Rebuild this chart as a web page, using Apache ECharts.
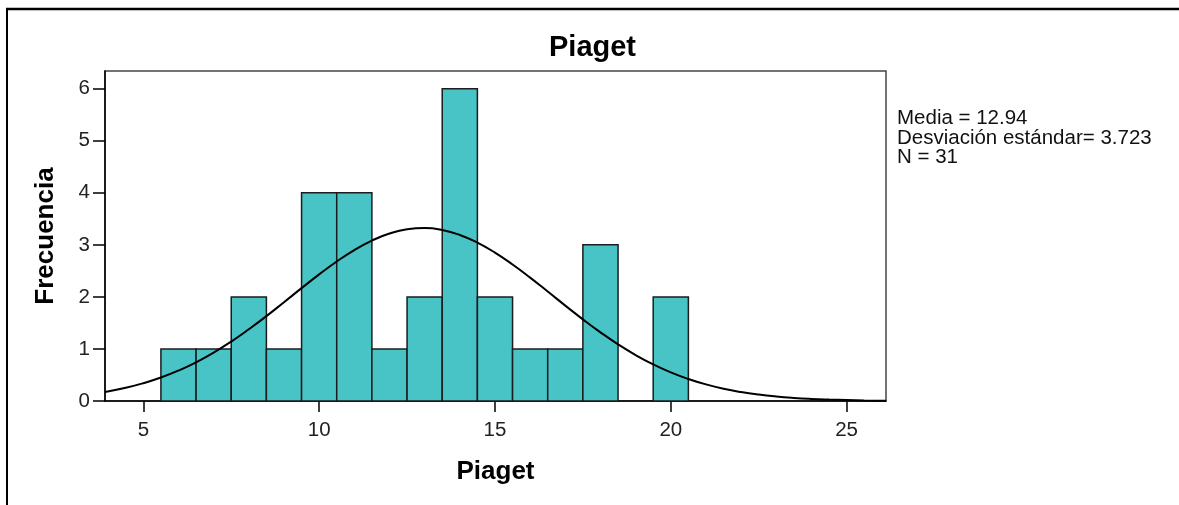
<!DOCTYPE html>
<html>
<head>
<meta charset="utf-8">
<script src="https://cdn.jsdelivr.net/npm/echarts@6/dist/echarts.min.js"></script>
<style>
  html, body { margin: 0; padding: 0; background: #fff; }
  #chart { width: 1179px; height: 505px; }
</style>
</head>
<body>
<div id="chart"></div>
<script>
  // histogram bins (centre of each unit-wide bin) and counts
  const binCenters = [6, 7, 8, 9, 10, 11, 12, 13, 14, 15, 16, 17, 18, 19, 20];
  const binCounts = [1, 1, 2, 1, 4, 4, 1, 2, 6, 2, 1, 1, 3, 0, 2];

  // normal curve (Media = 12.94, DE = 3.723, N = 31)
  const curveX = [3.91, 4.5, 5, 5.5, 6, 6.5, 7, 7.5, 8, 8.5, 9, 9.5, 10, 10.5, 11, 11.5, 12, 12.5, 13,
    13.5, 14, 14.5, 15, 15.5, 16, 16.5, 17, 17.5, 18, 18.5, 19, 19.5, 20, 20.5, 21, 21.5, 22, 22.5,
    23, 23.5, 24, 24.5, 25, 25.5, 26.12];
  const curveY = [0.174, 0.254, 0.342, 0.451, 0.585, 0.744, 0.930, 1.142, 1.378, 1.631, 1.898, 2.168,
    2.432, 2.680, 2.900, 3.082, 3.218, 3.299, 3.322, 3.285, 3.190, 3.043, 2.850, 2.622, 2.370, 2.103,
    1.833, 1.569, 1.319, 1.089, 0.883, 0.703, 0.550, 0.423, 0.319, 0.236, 0.172, 0.123, 0.086, 0.059,
    0.040, 0.027, 0.0175, 0.011, 0.0064];

  const xTicks = [5, 10, 15, 20, 25];
  const yTicks = [0, 1, 2, 3, 4, 5, 6];
  const statsLines = ['Media = 12.94', 'Desviación estándar= 3.723', 'N = 31'];

  const chart = echarts.init(document.getElementById('chart'));
  const font = 'Liberation Sans, Arial, sans-serif';

  const option = {
    animation: false,
    title: {
      text: 'Piaget',
      left: 549,
      top: 33,
      padding: 0,
      textStyle: { fontFamily: font, fontSize: 29, fontWeight: 'bold', color: '#000' },
    },
    grid: {
      left: 105,
      top: 71,
      right: 293,
      bottom: 104,
      show: true,
      borderColor: '#444',
      borderWidth: 1.5,
    },
    xAxis: {
      type: 'value',
      min: 3.91,
      max: 26.12,
      name: 'Piaget',
      nameLocation: 'middle',
      nameGap: 58,
      nameTextStyle: { fontFamily: font, fontSize: 26, fontWeight: 'bold', color: '#000' },
      splitLine: { show: false },
      axisLine: { lineStyle: { color: '#000', width: 1.5 } },
      axisTick: { customValues: xTicks, length: 11, lineStyle: { color: '#000', width: 1.5 } },
      axisLabel: { customValues: xTicks, margin: 19, fontFamily: font, fontSize: 20.5, color: '#222' },
    },
    yAxis: {
      type: 'value',
      min: 0,
      max: 6.34,
      name: 'Frecuencia',
      nameLocation: 'middle',
      nameGap: 46,
      nameTextStyle: { fontFamily: font, fontSize: 26, fontWeight: 'bold', color: '#000' },
      splitLine: { show: false },
      axisLine: { show: true, lineStyle: { color: '#000', width: 1.5 } },
      axisTick: { show: true, customValues: yTicks, length: 12, lineStyle: { color: '#000', width: 1.5 } },
      axisLabel: { customValues: yTicks, margin: 15, fontFamily: font, fontSize: 20.5, color: '#222' },
    },
    graphic: [
      // outer frame (top and left edges only)
      { type: 'line', shape: { x1: 6, y1: 9, x2: 1179, y2: 9 }, style: { stroke: '#000', lineWidth: 2.5 } },
      { type: 'line', shape: { x1: 7, y1: 8, x2: 7, y2: 505 }, style: { stroke: '#000', lineWidth: 2 } },
      {
        type: 'text',
        left: 897,
        top: 108,
        style: {
          text: statsLines.join('\n'),
          fontFamily: font,
          fontSize: 20.5,
          lineHeight: 19.5,
          fill: '#111',
        },
      },
    ],
    series: [
      {
        name: 'Piaget',
        type: 'custom',
        data: binCenters.map((c, i) => [c, binCounts[i]]),
        renderItem: function (params, api) {
          const x = api.value(0);
          const y = api.value(1);
          if (!y) return;
          const p0 = api.coord([x - 0.5, y]);
          const p1 = api.coord([x + 0.5, 0]);
          return {
            type: 'rect',
            shape: { x: p0[0], y: p0[1], width: p1[0] - p0[0], height: p1[1] - p0[1] },
            style: { fill: '#48c4c6', stroke: '#1c1c1c', lineWidth: 1.5 },
          };
        },
        z: 2,
      },
      {
        name: 'Normal',
        type: 'line',
        data: curveX.map((x, i) => [x, curveY[i]]),
        smooth: true,
        showSymbol: false,
        lineStyle: { color: '#000', width: 2 },
        z: 3,
      },
    ],
  };

  chart.setOption(option);
</script>
</body>
</html>
